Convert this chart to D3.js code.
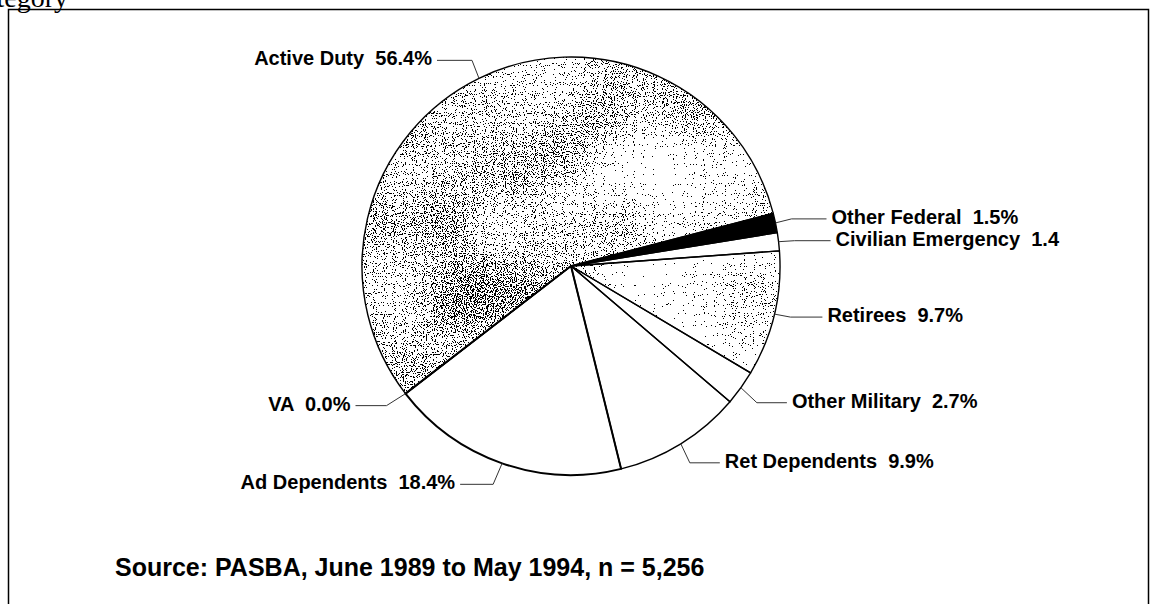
<!DOCTYPE html>
<html>
<head>
<meta charset="utf-8">
<script src="https://cdn.jsdelivr.net/npm/d3@7"></script>
<style>
  html, body { margin: 0; padding: 0; background: #fff; }
  svg { display: block; }
  text { font-family: "Liberation Sans", Arial, sans-serif; }
</style>
</head>
<body>
<svg id="chart" width="1161" height="604"></svg>
<script>
// ---- data ----
const categories = ["Other Federal", "Civilian Emergency", "Retirees", "Other Military",
                    "Ret Dependents", "Ad Dependents", "VA", "Active Duty"];
const percents   = [1.5, 1.4, 9.7, 2.7, 9.9, 18.4, 0.0, 56.4];
const valueLabels = ["1.5%", "1.4", "9.7%", "2.7%", "9.9%", "18.4%", "0.0%", "56.4%"];
const sourceNote = "Source: PASBA, June 1989 to May 1994, n = 5,256";
const titleFragment = "Beneficiary Category";

// ---- styling / layout (not data) ----
const fills = {
  "Other Federal": "black", "Civilian Emergency": "white", "Retirees": "stipB",
  "Other Military": "white", "Ret Dependents": "white", "Ad Dependents": "white",
  "VA": "white", "Active Duty": "stipA"
};
// leader elbow offsets from the arc point, horizontal run length, side
const leader = {
  "Other Federal":      {dx: 16, dy: -4, len: 35, side: 1},
  "Civilian Emergency": {dx: 16, dy: -1, len: 36, side: 1},
  "Retirees":           {dx: 16, dy: 3,  len: 32, side: 1},
  "Other Military":     {dx: 16, dy: 15, len: 30, side: 1},
  "Ret Dependents":     {dx: 9,  dy: 19, len: 30, side: 1},
  "Ad Dependents":      {dx: -9, dy: 21, len: 33, side: -1},
  "VA":                 {dx: -19,dy: 12, len: 31, side: -1},
  "Active Duty":        {dx: -7, dy: -18,len: 35, side: -1}
};

const svg = d3.select("#chart");
const cx = 571, cy = 266, R = 209;

const defs = svg.append("defs");
function stipple(id, k3, k4, seed) {
  const f = defs.append("filter").attr("id", id)
    .attr("filterUnits", "userSpaceOnUse")
    .attr("x", cx - R - 5).attr("y", cy - R - 5)
    .attr("width", 2 * R + 10).attr("height", 2 * R + 10)
    .attr("color-interpolation-filters", "sRGB");
  f.append("feTurbulence").attr("type", "fractalNoise").attr("baseFrequency", 0.9)
    .attr("numOctaves", 1).attr("seed", seed).attr("result", "hi");
  f.append("feTurbulence").attr("type", "fractalNoise").attr("baseFrequency", 0.008)
    .attr("numOctaves", 2).attr("seed", seed + 5).attr("result", "lo");
  f.append("feColorMatrix").attr("in", "hi").attr("type", "matrix")
    .attr("values", "1 0 0 0 0  1 0 0 0 0  1 0 0 0 0  0 0 0 0 1").attr("result", "hiR");
  f.append("feColorMatrix").attr("in", "lo").attr("type", "matrix")
    .attr("values", "1 0 0 0 0  1 0 0 0 0  1 0 0 0 0  0 0 0 0 1").attr("result", "loR");
  f.append("feComposite").attr("in", "hiR").attr("in2", "loR").attr("operator", "arithmetic")
    .attr("k1", 0).attr("k2", 1).attr("k3", k3).attr("k4", k4).attr("result", "sum");
  f.append("feColorMatrix").attr("in", "sum").attr("type", "matrix")
    .attr("values", "0 0 0 0 0  0 0 0 0 0  0 0 0 0 0  1 0 0 0 0").attr("result", "a");
  const ct = f.append("feComponentTransfer").attr("in", "a");
  ct.append("feFuncA").attr("type", "discrete").attr("tableValues", "0 0 0 0 0 0 0 1 1 1");
}
stipple("stipA", 0.35, -0.085, 3);
stipple("stipB", 0.3, -0.16, 11);

// frame
svg.append("rect").attr("x", 8.5).attr("y", 9.5).attr("width", 1140).attr("height", 620)
  .attr("fill", "none").attr("stroke", "#000").attr("stroke-width", 1.5);

// cut-off title at very top
svg.append("text").attr("x", 68).attr("y", 7).attr("text-anchor", "end")
  .style("font-family", "'Liberation Serif', serif").attr("font-size", 28)
  .text(titleFragment);

const a0 = (75.4) * Math.PI / 180;
const pie = d3.pie().sort(null).value(d => d).startAngle(a0).endAngle(a0 + 2 * Math.PI);
const arcs = pie(percents);
const arc = d3.arc().innerRadius(0).outerRadius(R);
const rim = d3.arc().innerRadius(R).outerRadius(R);

const g = svg.append("g").attr("transform", `translate(${cx},${cy})`);

arcs.forEach((a, i) => {
  const name = categories[i];
  const f = fills[name];
  const cid = "clip" + i;
  defs.append("clipPath").attr("id", cid).append("path")
    .attr("transform", `translate(${cx},${cy})`).attr("d", arc(a));
  if (f === "stipA" || f === "stipB") {
    g.append("path").attr("d", arc(a)).attr("fill", "white");
    svg.append("g").attr("clip-path", `url(#${cid})`)
      .append("rect").attr("x", cx - R - 5).attr("y", cy - R - 5)
      .attr("width", 2 * R + 10).attr("height", 2 * R + 10)
      .attr("fill", "black").attr("filter", `url(#${f})`);
  } else {
    g.append("path").attr("d", arc(a)).attr("fill", f);
  }
});
// slice outlines
const outline = svg.append("g").attr("transform", `translate(${cx},${cy})`);
arcs.forEach((a, i) => {
  outline.append("path").attr("d", arc(a)).attr("fill", "none")
    .attr("stroke", "#000").attr("stroke-width", categories[i] === "Ad Dependents" ? 2 : 1.4)
    .attr("stroke-linejoin", "round");
});

// leaders & labels
arcs.forEach((a, i) => {
  const name = categories[i];
  const L = leader[name];
  const [px, py] = rim.centroid(a);
  const p0 = [cx + px, cy + py];
  const p1 = [p0[0] + L.dx, p0[1] + L.dy];
  const p2 = [p1[0] + L.side * L.len, p1[1]];
  svg.append("path").attr("d", d3.line()([p0, p1, p2]))
    .attr("fill", "none").attr("stroke", "#333").attr("stroke-width", 1);
  svg.append("text")
    .attr("x", p2[0] + L.side * 5).attr("y", p2[1] + 5)
    .attr("text-anchor", L.side > 0 ? "start" : "end")
    .attr("font-size", 20).attr("font-weight", "bold")
    .style("white-space", "pre")
    .text(name + "  " + valueLabels[i]);
});

svg.append("text").attr("x", 115).attr("y", 576)
  .attr("font-size", 25).attr("font-weight", "bold")
  .text(sourceNote);
</script>
</body>
</html>
